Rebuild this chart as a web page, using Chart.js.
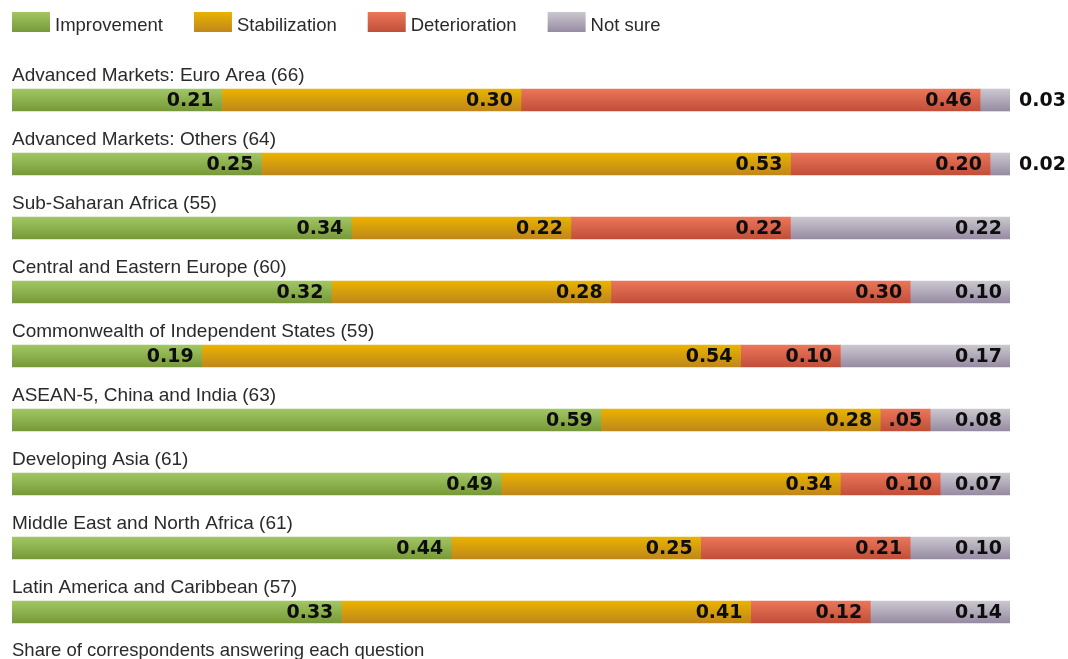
<!DOCTYPE html>
<html>
<head>
<meta charset="utf-8">
<script src="https://cdn.jsdelivr.net/npm/chart.js@4/dist/chart.umd.min.js"></script>
<style>
  html, body { margin: 0; padding: 0; background: #fff; }
  #outlook { display: block; }
</style>
</head>
<body>
<canvas id="outlook" width="1068" height="659"></canvas>
<script>
// Survey answers per region, shares of respondents
const categories = [
  'Advanced Markets: Euro Area',
  'Advanced Markets: Others',
  'Sub-Saharan Africa',
  'Central and Eastern Europe',
  'Commonwealth of Independent States',
  'ASEAN-5, China and India',
  'Developing Asia',
  'Middle East and North Africa',
  'Latin America and Caribbean'
];
const respondents = [66, 64, 55, 60, 59, 63, 61, 61, 57];

const improvement   = [0.21, 0.25, 0.34, 0.32, 0.19, 0.59, 0.49, 0.44, 0.33];
const stabilization = [0.30, 0.53, 0.22, 0.28, 0.54, 0.28, 0.34, 0.25, 0.41];
const deterioration = [0.46, 0.20, 0.22, 0.30, 0.10, 0.05, 0.10, 0.21, 0.12];
const notSure       = [0.03, 0.02, 0.22, 0.10, 0.17, 0.08, 0.07, 0.10, 0.14];

const seriesNames = ['Improvement', 'Stabilization', 'Deterioration', 'Not sure'];
const footnote = 'Share of correspondents answering each question';

// top / bottom colour of each series gradient
const shades = [
  ['#a2c761', '#77993b'],
  ['#e9b300', '#c0871b'],
  ['#eb7659', '#c14e39'],
  ['#cbc8cf', '#978ba3']
];

const FONT = '"Liberation Sans", Arial, Helvetica, sans-serif';
const BAR_H = 22;

function vGradient(ctx, top, bottom, colors) {
  const g = ctx.createLinearGradient(0, top, 0, bottom);
  g.addColorStop(0, colors[0]);
  g.addColorStop(1, colors[1]);
  return g;
}

function barFill(idx) {
  return (c) => {
    const chart = c.chart;
    const y = chart.scales.y;
    if (!chart.chartArea || !y || c.dataIndex === undefined) return shades[idx][0];
    const mid = y.getPixelForValue(c.dataIndex);
    return vGradient(chart.ctx, mid - BAR_H / 2, mid + BAR_H / 2, shades[idx]);
  };
}

// legend row, region names above bars, value labels, footnote
const decorations = {
  id: 'decorations',
  afterDatasetsDraw(chart) {
    const ctx = chart.ctx;
    ctx.save();

    // legend
    ctx.font = '18.5px ' + FONT;
    ctx.textBaseline = 'alphabetic';
    ctx.textAlign = 'left';
    let x = 12;
    seriesNames.forEach((name, i) => {
      ctx.fillStyle = vGradient(ctx, 12, 32, shades[i]);
      ctx.fillRect(x, 12, 38, 20);
      ctx.fillStyle = '#2a2a2a';
      ctx.fillText(name, x + 43, 31);
      x += 43 + ctx.measureText(name).width + 31;
    });

    // region names
    ctx.font = '19px ' + FONT;
    const yScale = chart.scales.y;
    categories.forEach((name, i) => {
      const mid = yScale.getPixelForValue(i);
      ctx.fillStyle = '#2a2a2a';
      ctx.fillText(name + ' (' + respondents[i] + ')', chart.chartArea.left, mid - BAR_H / 2 - 8);
    });

    // values on each segment
    ctx.font = 'bold 19px "DejaVu Sans", sans-serif';
    ctx.fillStyle = '#0d0d0d';
    ctx.textBaseline = 'middle';
    chart.data.datasets.forEach((ds, d) => {
      const meta = chart.getDatasetMeta(d);
      meta.data.forEach((bar, i) => {
        const v = ds.data[i];
        const w = Math.abs(bar.x - bar.base);
        let txt = v.toFixed(2);
        if (w < 40) {
          ctx.textAlign = 'left';
          ctx.fillText(txt, bar.x + 9, bar.y + 1);
        } else {
          if (w < 56) txt = txt.replace(/^0/, '');
          ctx.textAlign = 'right';
          ctx.fillText(txt, bar.x - 8, bar.y + 1);
        }
      });
    });

    // footnote
    ctx.font = '18.5px ' + FONT;
    ctx.textAlign = 'left';
    ctx.textBaseline = 'alphabetic';
    ctx.fillStyle = '#2a2a2a';
    ctx.fillText(footnote, 12, 656);

    ctx.restore();
  }
};

const series = [improvement, stabilization, deterioration, notSure];

new Chart(document.getElementById('outlook'), {
  type: 'bar',
  data: {
    labels: categories,
    datasets: series.map((data, i) => ({
      label: seriesNames[i],
      data: data,
      backgroundColor: barFill(i),
      borderWidth: 0,
      barThickness: BAR_H
    }))
  },
  options: {
    indexAxis: 'y',
    responsive: false,
    animation: false,
    devicePixelRatio: 1,
    layout: { padding: { left: 12, right: 58, top: 68, bottom: 15 } },
    plugins: {
      legend: { display: false },
      tooltip: { enabled: false }
    },
    scales: {
      x: { stacked: true, min: 0, max: 1, display: false },
      y: { stacked: true, display: false }
    }
  },
  plugins: [decorations]
});
</script>
</body>
</html>
